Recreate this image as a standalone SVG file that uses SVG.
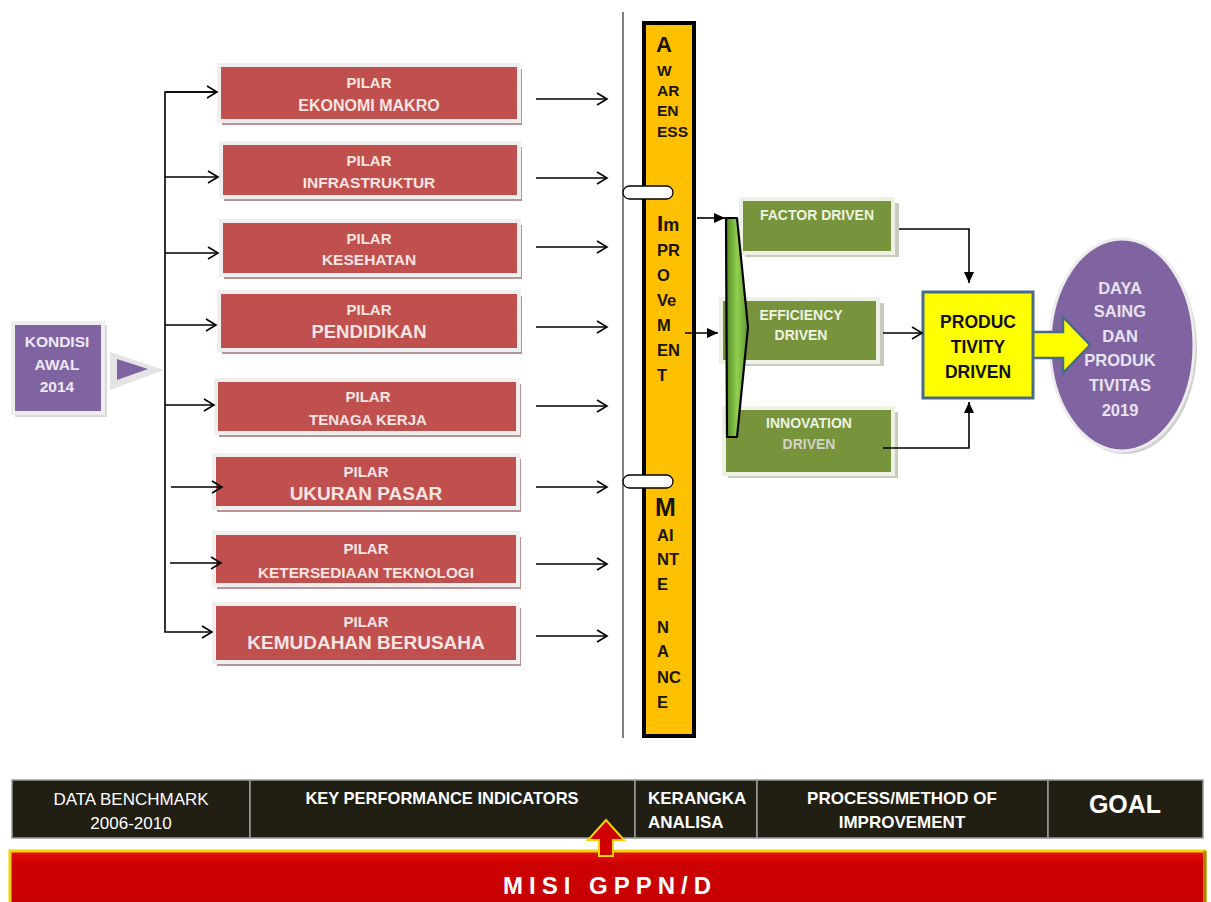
<svg xmlns="http://www.w3.org/2000/svg" width="1211" height="902" viewBox="0 0 1211 902">
<defs>
<style>
.t{font-family:"Liberation Sans",Arial,sans-serif;font-weight:bold;text-anchor:middle}
.pilar{fill:#C0504D;stroke:#EFEFEF;stroke-width:4}
.pshadow{fill:#B89496}
.ptxt{fill:#F7E4E3}
.green{fill:#77933C;stroke:#EEF2E4;stroke-width:4}
.gshadow{fill:#C8CCBC}
.gtxt{fill:#EEF3E2;font-size:14px}
.line{stroke:#000;stroke-width:1.6;fill:none}
.bar{font-family:"Liberation Sans",Arial,sans-serif;font-weight:bold;fill:#1A1400}
.cell{fill:#211E13;stroke:#9A9A9A;stroke-width:1.5}
.ctxt{fill:#FFFFFF;font-family:"Liberation Sans",Arial,sans-serif;text-anchor:middle}
</style>
<marker id="open" markerWidth="14" markerHeight="14" refX="11" refY="7" orient="auto" markerUnits="userSpaceOnUse">
<polyline points="1,1 11,7 1,13" fill="none" stroke="#000" stroke-width="1.6"/>
</marker>
<marker id="solid" markerWidth="12" markerHeight="12" refX="11" refY="6" orient="auto" markerUnits="userSpaceOnUse">
<polygon points="0,1 11,6 0,11" fill="#000"/>
</marker>
<linearGradient id="gwedge" x1="0" y1="0" x2="1" y2="0">
<stop offset="0" stop-color="#4E8A24"/>
<stop offset="0.5" stop-color="#92D050"/>
<stop offset="1" stop-color="#5C9A2E"/>
</linearGradient>
<linearGradient id="gred" x1="0" y1="0" x2="0" y2="1">
<stop offset="0" stop-color="#E01010"/>
<stop offset="0.25" stop-color="#CC0000"/>
<stop offset="1" stop-color="#C80000"/>
</linearGradient>
</defs>
<rect width="1211" height="902" fill="#FFFFFF"/>

<!-- KONDISI AWAL -->
<g id="kondisi">
<rect x="15" y="325" width="92" height="92" fill="#D8D8D8"/>
<rect x="13" y="323" width="90" height="90" fill="#8064A2" stroke="#EDEDED" stroke-width="4"/>
<polygon points="110,352 164,370 110,390" fill="#E4E4E4"/>
<polygon points="117,359 148,369 117,380" fill="#8064A2"/>
<text class="t" x="57" y="347" font-size="15.5" fill="#EEE8F4">KONDISI</text>
<text class="t" x="57" y="370" font-size="15.5" fill="#EEE8F4">AWAL</text>
<text class="t" x="57" y="392" font-size="15.5" fill="#EEE8F4">2014</text>
</g>

<!-- Pilar boxes -->
<g id="p1"><rect class="pshadow" x="222" y="69" width="300" height="56"/><rect class="pilar" x="219" y="65" width="300" height="56"/>
<text class="t ptxt" x="369" y="88" font-size="15">PILAR</text><text class="t ptxt" x="369" y="111" font-size="16">EKONOMI MAKRO</text></g>
<g id="p2"><rect class="pshadow" x="224" y="147" width="298" height="54"/><rect class="pilar" x="221" y="143" width="298" height="54"/>
<text class="t ptxt" x="369" y="166" font-size="15">PILAR</text><text class="t ptxt" x="369" y="188" font-size="15.5">INFRASTRUKTUR</text></g>
<g id="p3"><rect class="pshadow" x="224" y="225" width="298" height="54"/><rect class="pilar" x="221" y="221" width="298" height="54"/>
<text class="t ptxt" x="369" y="244" font-size="15">PILAR</text><text class="t ptxt" x="369" y="265" font-size="15.5">KESEHATAN</text></g>
<g id="p4"><rect class="pshadow" x="222" y="296" width="300" height="58"/><rect class="pilar" x="219" y="292" width="300" height="58"/>
<text class="t ptxt" x="369" y="315" font-size="15">PILAR</text><text class="t ptxt" x="369" y="338" font-size="18.5">PENDIDIKAN</text></g>
<g id="p5"><rect class="pshadow" x="219" y="384" width="302" height="53"/><rect class="pilar" x="216" y="380" width="302" height="53"/>
<text class="t ptxt" x="368" y="402" font-size="15">PILAR</text><text class="t ptxt" x="368" y="425" font-size="15">TENAGA KERJA</text></g>
<g id="p6"><rect class="pshadow" x="217" y="459" width="304" height="53"/><rect class="pilar" x="214" y="455" width="304" height="53"/>
<text class="t ptxt" x="366" y="477" font-size="15">PILAR</text><text class="t ptxt" x="366" y="500" font-size="19">UKURAN PASAR</text></g>
<g id="p7"><rect class="pshadow" x="217" y="537" width="304" height="52"/><rect class="pilar" x="214" y="533" width="304" height="52"/>
<text class="t ptxt" x="366" y="554" font-size="15">PILAR</text><text class="t ptxt" x="366" y="578" font-size="15.3">KETERSEDIAAN TEKNOLOGI</text></g>
<g id="p8"><rect class="pshadow" x="217" y="608" width="304" height="58"/><rect class="pilar" x="214" y="604" width="304" height="58"/>
<text class="t ptxt" x="366" y="627" font-size="15">PILAR</text><text class="t ptxt" x="366" y="649" font-size="19">KEMUDAHAN BERUSAHA</text></g>

<!-- Vertical bar -->
<g id="bar">
<line x1="623" y1="12" x2="623" y2="738" stroke="#7F7F7F" stroke-width="2"/>
<rect x="644" y="23" width="50" height="713" fill="#FFC000" stroke="#000" stroke-width="4"/>
<rect x="623" y="186" width="50" height="13" rx="6.5" fill="#FFFFFF" stroke="#000" stroke-width="1.3"/>
<rect x="623" y="475" width="50" height="13" rx="6.5" fill="#FFFFFF" stroke="#000" stroke-width="1.3"/>
<text class="bar" x="656" y="52" font-size="22">A</text>
<text class="bar" x="657" y="76" font-size="15.5">W</text>
<text class="bar" x="657" y="96" font-size="15.5">AR</text>
<text class="bar" x="657" y="116" font-size="15.5">EN</text>
<text class="bar" x="657" y="137" font-size="15.5">ESS</text>
<text class="bar" x="657" y="231"><tspan font-size="22">I</tspan><tspan font-size="18">m</tspan></text>
<text class="bar" x="657" y="256" font-size="16.5">PR</text>
<text class="bar" x="657" y="281" font-size="16.5">O</text>
<text class="bar" x="657" y="306" font-size="16.5">Ve</text>
<text class="bar" x="657" y="331" font-size="16.5">M</text>
<text class="bar" x="657" y="356" font-size="16.5">EN</text>
<text class="bar" x="657" y="381" font-size="16.5">T</text>
<text class="bar" x="655" y="516" font-size="25">M</text>
<text class="bar" x="657" y="541" font-size="16.5">AI</text>
<text class="bar" x="657" y="565" font-size="16.5">NT</text>
<text class="bar" x="657" y="590" font-size="16.5">E</text>
<text class="bar" x="657" y="633" font-size="16.5">N</text>
<text class="bar" x="657" y="657" font-size="16.5">A</text>
<text class="bar" x="657" y="683" font-size="16.5">NC</text>
<text class="bar" x="657" y="708" font-size="16.5">E</text>
</g>

<!-- Green boxes -->
<g id="factor"><rect class="gshadow" x="745" y="203" width="154" height="54"/><rect class="green" x="741" y="199" width="152" height="54"/>
<text class="t gtxt" x="817" y="220">FACTOR DRIVEN</text></g>
<g id="efficiency"><rect class="gshadow" x="725" y="303" width="159" height="63"/><rect class="green" x="721" y="299" width="157" height="63"/>
<text class="t gtxt" x="801" y="320">EFFICIENCY</text><text class="t gtxt" x="801" y="340">DRIVEN</text></g>
<g id="innovation"><rect class="gshadow" x="728" y="412" width="170" height="66"/><rect class="green" x="724" y="408" width="169" height="66"/>
<text class="t gtxt" x="809" y="428">INNOVATION</text><text class="t" x="809" y="449" font-size="14" fill="#D0D4C8" font-weight="normal">DRIVEN</text></g>
<g id="wedge"><polygon points="726,218 737,218 748,327 737,437 727,437" fill="url(#gwedge)" stroke="#000" stroke-width="2.2" stroke-linejoin="round"/></g>

<!-- Goal ellipse -->
<g id="goal">
<ellipse cx="1125" cy="348" rx="72" ry="106" fill="#D0D0D0"/>
<ellipse cx="1122" cy="345" rx="72" ry="106" fill="#8064A2" stroke="#ECECEC" stroke-width="3"/>
<text class="t" x="1120" y="294" font-size="16.5" fill="#E8E2F0" font-weight="normal">DAYA</text>
<text class="t" x="1120" y="317" font-size="16.5" fill="#E8E2F0" font-weight="normal">SAING</text>
<text class="t" x="1120" y="342" font-size="16.5" fill="#E8E2F0" font-weight="normal">DAN</text>
<text class="t" x="1120" y="366" font-size="16.5" fill="#E8E2F0" font-weight="normal">PRODUK</text>
<text class="t" x="1120" y="391" font-size="16.5" fill="#E8E2F0" font-weight="normal">TIVITAS</text>
<text class="t" x="1120" y="416" font-size="16.5" fill="#E8E2F0" font-weight="normal">2019</text>
</g>

<!-- Productivity box + block arrow -->
<g id="productivity">
<polygon points="1030,332 1063,332 1063,317 1090,345 1063,373 1063,358 1030,358" fill="#FFFF00" stroke="#4A6A8A" stroke-width="2.5" stroke-linejoin="miter"/>
<rect x="923" y="292" width="110" height="106" fill="#FFFF00" stroke="#4A6A8A" stroke-width="3"/>
<text class="t" x="978" y="328" font-size="17.5" fill="#111">PRODUC</text>
<text class="t" x="978" y="353" font-size="17.5" fill="#111">TIVITY</text>
<text class="t" x="978" y="378" font-size="17.5" fill="#111">DRIVEN</text>
</g>

<!-- connectors -->
<g id="connectors">
<polyline class="line" points="217,92 165,92 165,632 212,632" marker-end="url(#open)"/>
<line class="line" x1="165" y1="92" x2="217" y2="92" marker-end="url(#open)"/>
<line class="line" x1="165" y1="177" x2="218" y2="177" marker-end="url(#open)"/>
<line class="line" x1="165" y1="253" x2="218" y2="253" marker-end="url(#open)"/>
<line class="line" x1="165" y1="325" x2="216" y2="325" marker-end="url(#open)"/>
<line class="line" x1="165" y1="405" x2="214" y2="405" marker-end="url(#open)"/>
<line class="line" x1="171" y1="487" x2="222" y2="487" marker-end="url(#open)"/>
<line class="line" x1="170" y1="563" x2="221" y2="563" marker-end="url(#open)"/>
<line class="line" x1="536" y1="99" x2="607" y2="99" marker-end="url(#open)"/>
<line class="line" x1="536" y1="178" x2="607" y2="178" marker-end="url(#open)"/>
<line class="line" x1="536" y1="247" x2="607" y2="247" marker-end="url(#open)"/>
<line class="line" x1="536" y1="327" x2="607" y2="327" marker-end="url(#open)"/>
<line class="line" x1="536" y1="406" x2="607" y2="406" marker-end="url(#open)"/>
<line class="line" x1="536" y1="487" x2="607" y2="487" marker-end="url(#open)"/>
<line class="line" x1="536" y1="564" x2="607" y2="564" marker-end="url(#open)"/>
<line class="line" x1="536" y1="636" x2="607" y2="636" marker-end="url(#open)"/>
<line class="line" x1="697" y1="218" x2="725" y2="218" marker-end="url(#solid)"/>
<line class="line" x1="685" y1="333" x2="718" y2="333" marker-end="url(#solid)"/>
<polyline class="line" points="899,229 969,229 969,283" marker-end="url(#solid)"/>
<line class="line" x1="883" y1="333" x2="922" y2="333" marker-end="url(#open)"/>
<polyline class="line" points="883,448 969,448 969,402" marker-end="url(#solid)"/>
</g>

<!-- Bottom table -->
<g id="table">
<rect class="cell" x="12" y="780" width="238" height="58"/>
<rect class="cell" x="250" y="780" width="385" height="58"/>
<rect class="cell" x="635" y="780" width="122" height="58"/>
<rect class="cell" x="757" y="780" width="291" height="58"/>
<rect class="cell" x="1048" y="780" width="155" height="58"/>
<text class="ctxt" x="131" y="805" font-size="17">DATA BENCHMARK</text>
<text class="ctxt" x="131" y="829" font-size="17">2006-2010</text>
<text class="ctxt" x="442" y="804" font-size="16.5" font-weight="bold">KEY PERFORMANCE INDICATORS</text>
<text class="ctxt" x="648" y="804" font-size="17" font-weight="bold" text-anchor="start" style="text-anchor:start">KERANGKA</text>
<text class="ctxt" x="648" y="828" font-size="17" font-weight="bold" style="text-anchor:start">ANALISA</text>
<text class="ctxt" x="902" y="804" font-size="17" font-weight="bold">PROCESS/METHOD OF</text>
<text class="ctxt" x="902" y="828" font-size="17" font-weight="bold">IMPROVEMENT</text>
<text class="ctxt" x="1125" y="813" font-size="25" font-weight="bold">GOAL</text>
</g>

<!-- Banner -->
<g id="misi">
<rect x="10" y="851" width="1195" height="60" fill="url(#gred)" stroke="#F2D400" stroke-width="3"/>
<line x1="1205" y1="851" x2="1205" y2="902" stroke="#B08000" stroke-width="3"/>
<text class="ctxt" x="610" y="894" font-size="24" font-weight="bold" letter-spacing="6">MISI GPPN/D</text>
</g>
<g id="uparrow">
<polygon points="599,856 599,840 588,840 606,820 624,840 613,840 613,856" fill="#D00000" stroke="#F2D400" stroke-width="2"/>
</g>
</svg>
